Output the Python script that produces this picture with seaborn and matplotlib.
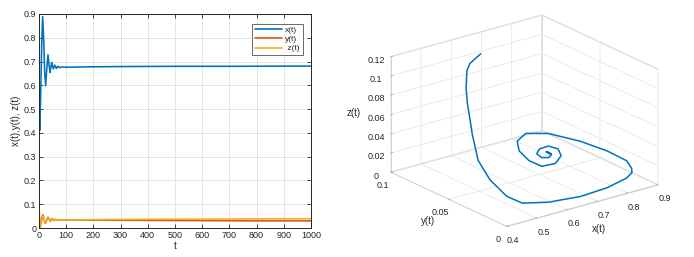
import numpy as np
import pandas as pd
import matplotlib
matplotlib.use("Agg")
import matplotlib.pyplot as plt
import seaborn as sns

# ---- time series ----
t_x = [0, 1, 2.5, 6, 10, 13.5, 17, 21, 24.5, 28, 33, 36.5, 40.5, 43.5, 46.6, 49.5,
       52.8, 58, 64, 70, 76, 82, 100, 200, 300, 500, 700, 1000]
x_vals = [0.70, 0.55, 0.41, 0.55, 0.78, 0.889, 0.80, 0.65, 0.598, 0.66, 0.728, 0.69,
          0.654, 0.675, 0.696, 0.682, 0.669, 0.685, 0.671, 0.680, 0.674, 0.677, 0.676,
          0.678, 0.679, 0.680, 0.680, 0.681]

t_yz = [0, 1, 2.5, 4, 7, 10, 14, 18, 21, 24, 28, 33, 37, 41, 44, 47, 50, 53, 58, 64,
        70, 80, 100, 200, 300, 400, 500, 600, 700, 800, 900, 1000]
y_vals = [0.100, 0.060, 0.020, 0.004, 0.015, 0.040, 0.056, 0.040, 0.025, 0.020, 0.032,
          0.045, 0.036, 0.028, 0.034, 0.040, 0.035, 0.031, 0.037, 0.033, 0.035, 0.034,
          0.034, 0.033, 0.0325, 0.032, 0.0315, 0.031, 0.0305, 0.030, 0.030, 0.030]
z_vals = [0.100, 0.070, 0.030, 0.008, 0.010, 0.030, 0.050, 0.045, 0.030, 0.022, 0.028,
          0.040, 0.038, 0.030, 0.032, 0.038, 0.036, 0.032, 0.036, 0.034, 0.035, 0.034,
          0.034, 0.035, 0.036, 0.0365, 0.037, 0.0375, 0.038, 0.0385, 0.039, 0.039]

# ---- phase trajectory ----
traj_x = [0.697, 0.640, 0.610, 0.550, 0.510, 0.470, 0.450, 0.430, 0.420, 0.430, 0.470,
          0.552, 0.654, 0.752, 0.831, 0.862, 0.876, 0.878, 0.851, 0.804, 0.729, 0.648,
          0.587, 0.565, 0.568, 0.599, 0.666, 0.721, 0.732, 0.703, 0.655, 0.623, 0.625,
          0.648, 0.667, 0.668, 0.660, 0.662, 0.670, 0.668]
traj_y = [0.100, 0.0944, 0.0891, 0.0742, 0.0628, 0.0497, 0.0428, 0.0325, 0.0197, 0.0079,
          0.0048, 0.0036, 0.0023, 0.0051, 0.009, 0.0125, 0.0164, 0.0214, 0.0311, 0.0418,
          0.050, 0.0483, 0.0398, 0.0324, 0.0247, 0.0218, 0.0274, 0.0368, 0.0423, 0.0432,
          0.0382, 0.0323, 0.0285, 0.0286, 0.031, 0.0345, 0.0340, 0.0318, 0.0322, 0.0330]
traj_z = [0.0973, 0.0953, 0.0938, 0.0893, 0.084, 0.0748, 0.0672, 0.0476, 0.0356, 0.0242,
          0.0154, 0.010, 0.008, 0.007, 0.008, 0.009, 0.010, 0.015, 0.022, 0.030, 0.040,
          0.048, 0.050, 0.046, 0.040, 0.033, 0.027, 0.025, 0.028, 0.033, 0.037, 0.038,
          0.036, 0.034, 0.034, 0.035, 0.036, 0.035, 0.034, 0.0345]

series_names = ["x(t)", "y(t)", " z(t)"]
colors = ["#0072BD", "#D95319", "#EDB120"]

sns.set_theme(style="whitegrid")
plt.rcParams["font.family"] = ["Liberation Sans", "DejaVu Sans"]
plt.rcParams["font.size"] = 6.5

df = pd.concat([
    pd.DataFrame({"t": t_x, "val": x_vals, "s": series_names[0]}),
    pd.DataFrame({"t": t_yz, "val": y_vals, "s": series_names[1]}),
    pd.DataFrame({"t": t_yz, "val": z_vals, "s": series_names[2]}),
])

fig = plt.figure(figsize=(6.94, 2.57), dpi=100)

ax = fig.add_axes([39/694, 29/257, 272/694, 214/257])
sns.lineplot(data=df, x="t", y="val", hue="s", palette=dict(zip(series_names, colors)),
             estimator=None, sort=False, linewidth=1.15, ax=ax, legend=False)
ax.set_xlim(0, 1000)
ax.set_ylim(0, 0.9)
ax.set_xticks(np.arange(0, 1001, 100))
ax.set_yticks(np.arange(0, 0.91, 0.1))
ax.set_yticklabels(["0", "0.1", "0.2", "0.3", "0.4", "0.5", "0.6", "0.7", "0.8", "0.9"])
ax.set_xlabel("t", fontsize=7, labelpad=1)
ax.set_ylabel("x(t),y(t), z(t)", fontsize=7, labelpad=2)
ax.grid(True, color="#e0e0e0", linewidth=0.6)
for sp in ax.spines.values():
    sp.set_color("#262626")
    sp.set_linewidth(0.7)
ax.tick_params(direction="in", length=3, width=0.6, labelsize=6.5, pad=2,
               colors="#262626", top=True, right=True, bottom=True, left=True)
handles = [plt.Line2D([], [], color=c, lw=1.2) for c in colors]
leg = ax.legend(handles, series_names, loc="upper right", fontsize=6, frameon=True,
                fancybox=False, edgecolor="#262626", handlelength=3.3,
                borderpad=0.35, labelspacing=0.15, handletextpad=0.4,
                bbox_to_anchor=(0.985, 0.975))
leg.get_frame().set_linewidth(0.6)

# ---- 3D panel ----
ax3 = fig.add_axes([0.50, -0.045, 0.50, 1.12], projection="3d")
ax3.plot(traj_x, traj_y, traj_z, color="#0072BD", linewidth=1.1)
ax3.set_proj_type("ortho")
ax3.view_init(elev=21, azim=-127.5)
ax3.set_box_aspect((1, 1, 0.65))
ax3.set_xlim(0.4, 0.9)
ax3.set_ylim(0, 0.1)
ax3.set_zlim(0, 0.12)
ax3.set_xticks([0.4, 0.5, 0.6, 0.7, 0.8, 0.9])
ax3.set_xticklabels(["0.4", "0.5", "0.6", "0.7", "0.8", "0.9"])
ax3.set_yticks([0, 0.05, 0.1])
ax3.set_yticklabels(["0", "0.05", "0.1"])
ax3.set_zticks([0, 0.02, 0.04, 0.06, 0.08, 0.1, 0.12])
ax3.set_zticklabels(["0", "0.02", "0.04", "0.06", "0.08", "0.1", "0.12"])
ax3.set_xlabel("x(t)", fontsize=7, labelpad=-6)
ax3.set_ylabel("y(t)", fontsize=7, labelpad=-6)
ax3.set_zlabel("z(t)", fontsize=7, labelpad=-6)
ax3.tick_params(labelsize=6.5, pad=-2, labelcolor="#262626", color="#9a9a9a")
for a in (ax3.xaxis, ax3.yaxis, ax3.zaxis):
    a.set_pane_color((1, 1, 1, 1))
    a.pane.set_edgecolor("#dcdcdc")
    a._axinfo["grid"]["color"] = "#e3e3e3"
    a._axinfo["grid"]["linewidth"] = 0.5
    a._axinfo["tick"]["inward_factor"] = 0.0
    a._axinfo["tick"]["outward_factor"] = 0.15
    a._axinfo["tick"]["linewidth"] = {True: 0.5, False: 0.5}
    a._axinfo["axisline"]["color"] = "#262626"
    a.line.set_linewidth(0.6)
ax3.set_facecolor("white")

fig.savefig("out.png", dpi=100, facecolor="white")
